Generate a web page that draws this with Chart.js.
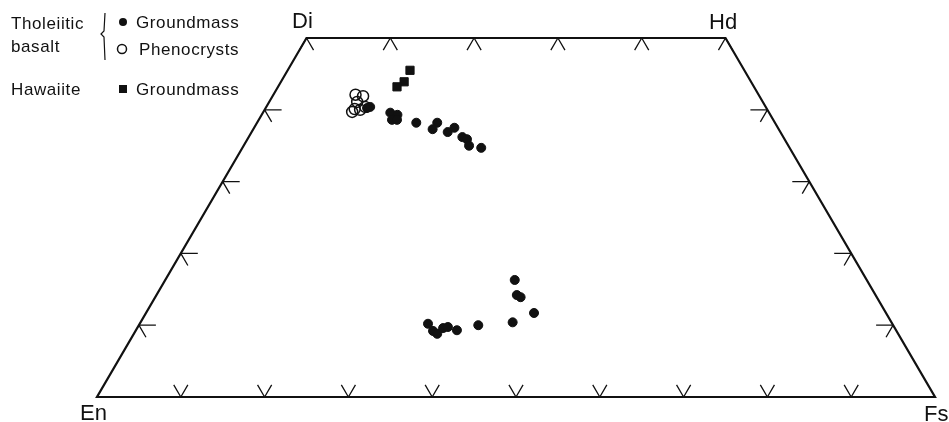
<!DOCTYPE html>
<html>
<head>
<meta charset="utf-8">
<script src="https://cdn.jsdelivr.net/npm/chart.js@4/dist/chart.umd.min.js"></script>
<style>
  html, body { margin: 0; padding: 0; background: #fff; }
  canvas { display: block; }
</style>
</head>
<body>
<canvas id="quad" width="949" height="422"></canvas>
<script>
// compositions in mol % (Wo, Fs; En = 100 - Wo - Fs)
const gmWo = [40.4, 40.25, 39.6, 39.3, 38.6, 38.6, 38.2, 38.2, 37.3, 36.9, 37.5, 36.2, 35.9, 35.0, 34.7,
              10.2, 9.2, 8.8, 9.6, 9.75, 9.3, 10.0, 10.4, 11.7, 16.3, 14.2, 13.9];
const gmFs = [12.4, 12.1, 15.2, 16.2, 15.9, 16.5, 19.0, 21.5, 21.4, 23.4, 23.9, 25.5, 26.2, 26.9, 28.5,
              34.4, 35.5, 36.2, 36.5, 37.0, 38.3, 40.5, 44.4, 46.3, 41.7, 43.0, 43.6];
const phWo = [42.1, 41.9, 41.1, 40.1, 39.7, 40.0, 40.4];
const phFs = [9.8, 10.8, 10.5, 10.7, 10.6, 11.4, 11.8];
const hwWo = [45.5, 43.9, 43.2];
const hwFs = [14.6, 14.7, 14.2];

const corners = ["En", "Fs", "Hd", "Di"];
const baseTicks = [10, 20, 30, 40, 50, 60, 70, 80, 90];  // along En-Fs
const topTicks = [0, 10, 20, 30, 40, 50];                // Fs along Di-Hd
const sideTicks = [10, 20, 30, 40];                      // Wo on both sides

// x = Fs + Wo/2, y = Wo
function toXY(wo, fs) {
  return wo.map((w, i) => ({ x: fs[i] + w / 2, y: w }));
}

const ink = "#111";

const quadPlugin = {
  id: "quad",
  beforeDraw(chart) {
    const c = chart.ctx;
    c.save();
    c.fillStyle = "#fff";
    c.fillRect(0, 0, chart.width, chart.height);
    c.restore();
  },
  beforeDatasetsDraw(chart) {
    const c = chart.ctx;
    const sx = chart.scales.x, sy = chart.scales.y;
    const P = (x, y) => [sx.getPixelForValue(x), sy.getPixelForValue(y)];
    const en = P(0, 0), fs = P(100, 0), hd = P(75, 50), di = P(25, 50);

    c.save();
    c.strokeStyle = ink;
    c.lineWidth = 2.2;
    c.beginPath();
    c.moveTo(en[0], en[1]);
    c.lineTo(fs[0], fs[1]);
    c.lineTo(hd[0], hd[1]);
    c.lineTo(di[0], di[1]);
    c.closePath();
    c.stroke();

    // unit directions of the sides
    const unit = (a, b) => {
      const dx = b[0] - a[0], dy = b[1] - a[1], l = Math.hypot(dx, dy);
      return [dx / l, dy / l];
    };
    const upRight = unit(en, di);   // left side, upwards
    const upLeft = unit(fs, hd);    // right side, upwards
    const L = 14;
    const leg = (p, d, len) => {
      c.moveTo(p[0], p[1]);
      c.lineTo(p[0] + d[0] * len, p[1] + d[1] * len);
    };

    c.lineWidth = 1.3;
    c.beginPath();
    baseTicks.forEach(v => {
      const p = P(v, 0);
      leg(p, upRight, L);
      leg(p, upLeft, L);
    });
    topTicks.forEach(f => {
      const p = P(f + 25, 50);
      leg(p, [-upRight[0], -upRight[1]], L);
      leg(p, [-upLeft[0], -upLeft[1]], L);
    });
    sideTicks.forEach(w => {
      const pl = P(w / 2, w);
      leg(pl, [1, 0], 17);
      leg(pl, [-upLeft[0], -upLeft[1]], L);
      const pr = P(100 - w / 2, w);
      leg(pr, [-1, 0], 17);
      leg(pr, [-upRight[0], -upRight[1]], L);
    });
    c.stroke();
    c.restore();
  },
  afterDraw(chart) {
    const c = chart.ctx;
    c.save();
    c.fillStyle = ink;
    c.strokeStyle = ink;
    c.textBaseline = "alphabetic";

    // corner labels
    c.font = "22px 'Liberation Sans', Arial, sans-serif";
    c.fillText(corners[3], 292, 28);
    c.fillText(corners[2], 709, 29);
    c.fillText(corners[0], 80, 420);
    c.fillText(corners[1], 924, 421);

    // legend
    c.letterSpacing = "0.6px";
    c.font = "17px 'Liberation Sans', Arial, sans-serif";
    c.fillText("Tholeiitic", 11, 29);
    c.fillText("basalt", 11, 52);
    c.fillText("Hawaiite", 11, 95);
    c.fillText("Groundmass", 136, 28);
    c.fillText("Phenocrysts", 139, 55);
    c.fillText("Groundmass", 136, 95);

    // brace
    c.lineWidth = 1.2;
    c.beginPath();
    c.moveTo(105, 13);
    c.lineTo(104, 31);
    c.lineTo(101, 34);
    c.lineTo(104, 37);
    c.lineTo(105, 60);
    c.stroke();

    // symbols
    c.beginPath();
    c.arc(123, 22, 4, 0, Math.PI * 2);
    c.fill();
    c.lineWidth = 1.5;
    c.beginPath();
    c.arc(122, 49, 4.5, 0, Math.PI * 2);
    c.stroke();
    c.fillRect(119, 85, 8, 8);
    c.restore();
  }
};

new Chart(document.getElementById("quad").getContext("2d"), {
  type: "scatter",
  data: {
    datasets: [
      {
        label: "Tholeiitic basalt, phenocrysts",
        data: toXY(phWo, phFs),
        pointStyle: "circle",
        pointRadius: 5.5,
        backgroundColor: "rgba(0,0,0,0)",
        borderColor: ink,
        borderWidth: 1.5
      },
      {
        label: "Tholeiitic basalt, groundmass",
        data: toXY(gmWo, gmFs),
        pointStyle: "circle",
        pointRadius: 4.5,
        backgroundColor: ink,
        borderColor: ink,
        borderWidth: 1
      },
      {
        label: "Hawaiite, groundmass",
        data: toXY(hwWo, hwFs),
        pointStyle: "rect",
        pointRadius: 5.8,
        backgroundColor: ink,
        borderColor: ink,
        borderWidth: 1
      }
    ]
  },
  options: {
    responsive: false,
    animation: false,
    layout: { padding: { left: 97, right: 14, top: 38, bottom: 25 } },
    scales: {
      x: { type: "linear", min: 0, max: 100, display: false },
      y: { type: "linear", min: 0, max: 50, display: false }
    },
    plugins: {
      legend: { display: false },
      tooltip: { enabled: false }
    }
  },
  plugins: [quadPlugin]
});
</script>
</body>
</html>
